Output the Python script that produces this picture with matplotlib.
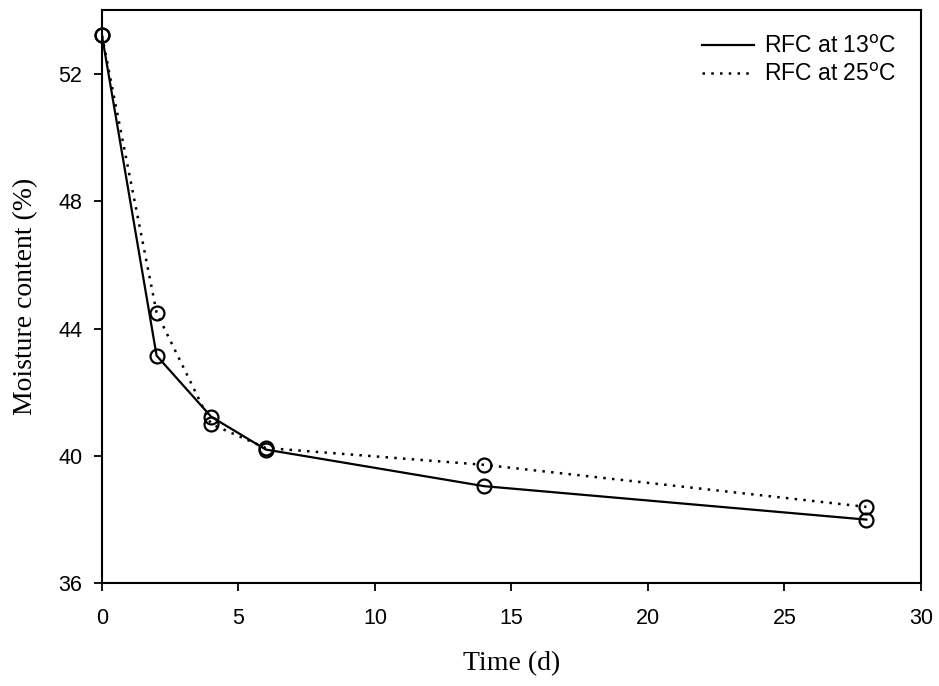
import matplotlib
matplotlib.use("Agg")
import matplotlib.pyplot as plt

# data
days = [0, 2, 4, 6, 14, 28]
rfc_13 = [53.2, 43.15, 41.23, 40.2, 39.05, 38.0]
rfc_25 = [53.2, 44.5, 41.0, 40.25, 39.72, 38.4]
labels = ["RFC at 13$^{\\rm o}$C", "RFC at 25$^{\\rm o}$C"]

x_ticks = [0, 5, 10, 15, 20, 25, 30]
y_ticks = [36, 40, 44, 48, 52]

fig = plt.figure(figsize=(9.39, 6.86), dpi=100)
ax = fig.add_axes([0.1086, 0.1497, 0.8722, 0.8357])

ax.plot(days, rfc_13, color="black", lw=1.6, ls="-", label=labels[0])
ax.plot(days, rfc_25, color="black", lw=1.8, ls=(0, (1, 2.5)), label=labels[1])
for ys in (rfc_13, rfc_25):
    ax.plot(days, ys, ls="none", marker="o", ms=10, mfc="none",
            mec="black", mew=1.6, clip_on=False)

ax.set_xlim(0, 30)
ax.set_ylim(36, 54)
ax.set_xticks(x_ticks)
ax.set_yticks(y_ticks)
ax.tick_params(direction="out", length=6, width=1.3, labelsize=15.5,
               top=False, right=False)
ax.tick_params(axis="x", pad=12)
ax.tick_params(axis="y", pad=8)
for lab in ax.get_xticklabels() + ax.get_yticklabels():
    lab.set_fontfamily("Liberation Sans")
for sp in ax.spines.values():
    sp.set_linewidth(1.5)

ax.set_xlabel("Time (d)", family="Liberation Serif", fontsize=20)
ax.set_ylabel("Moisture content (%)", family="Liberation Serif", fontsize=20)
ax.xaxis.set_label_coords(0.5, -0.118)
ax.yaxis.set_label_coords(-0.078, 0.5)

leg = ax.legend(loc="upper right", frameon=False, handlelength=2.3,
                handletextpad=0.4, prop={"family": "Liberation Sans", "size": 16.5},
                bbox_to_anchor=(1.006, 1.008), borderaxespad=0.9, labelspacing=0.2)

fig.savefig("out.png", dpi=100)
